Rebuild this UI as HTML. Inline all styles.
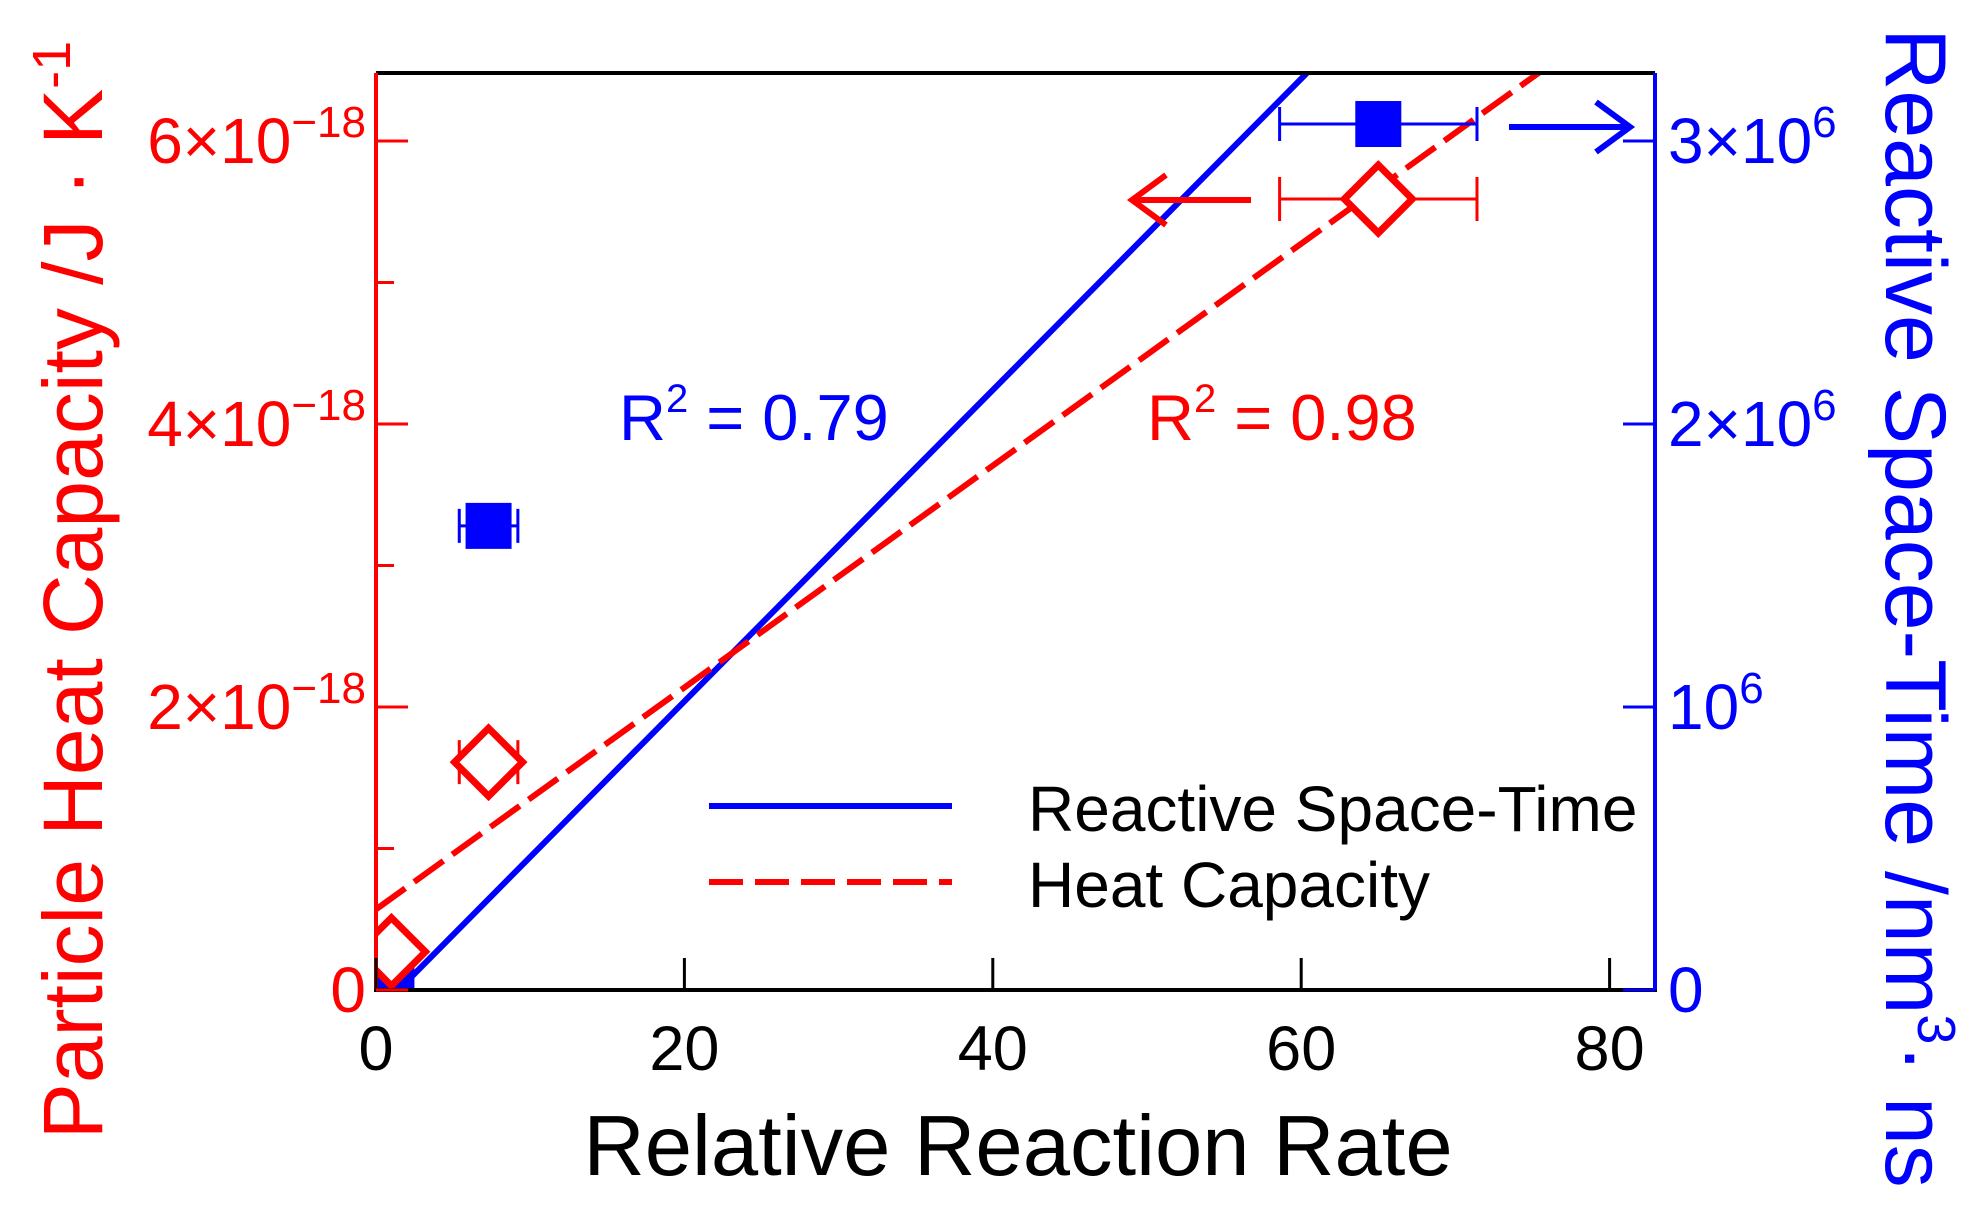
<!DOCTYPE html>
<html><head><meta charset="utf-8">
<style>
html,body{margin:0;padding:0;background:#fff;}
svg{display:block;font-family:"Liberation Sans",Arial,sans-serif;}
</style></head>
<body>
<svg id="chart" width="1975" height="1211" viewBox="0 0 1975 1211" xmlns="http://www.w3.org/2000/svg">
<defs><clipPath id="plotclip"><rect x="376" y="73" width="1279" height="917"/></clipPath></defs>
<g id="marks" clip-path="url(#plotclip)"></g>
<g id="axes"></g>
<g id="labels"></g>
<text x="1018" y="1175" font-family="Liberation Sans, sans-serif" font-size="85" text-anchor="middle" fill="#000">Relative Reaction Rate</text>
<text transform="translate(102,590) rotate(-90)" font-family="Liberation Sans, sans-serif" font-size="84" text-anchor="middle" fill="#ff0000">Particle Heat Capacity /J · K<tspan font-size="54" dy="-32">-1</tspan></text>
<text transform="translate(1886,608) rotate(90)" font-family="Liberation Sans, sans-serif" font-size="86" text-anchor="middle" fill="#0000ff">Reactive Space-Time /nm<tspan font-size="54" dy="-32">3</tspan><tspan dy="32">· ns</tspan></text>
<text x="619" y="440" font-family="Liberation Sans, sans-serif" font-size="65" fill="#0000ff">R<tspan font-size="40" dy="-28">2</tspan><tspan dy="28"> = 0.79</tspan></text>
<text x="1147" y="440" font-family="Liberation Sans, sans-serif" font-size="65" fill="#ff0000">R<tspan font-size="40" dy="-28">2</tspan><tspan dy="28"> = 0.98</tspan></text>
<g stroke="#0000ff" stroke-width="6" fill="none">
  <line x1="1509" y1="127" x2="1630" y2="127"/><path d="M1596,102 L1630,127 L1596,152"/>
</g>
<g stroke="#ff0000" stroke-width="6" fill="none">
  <line x1="1251" y1="200" x2="1132" y2="200"/><path d="M1166,175 L1132,200 L1166,225"/>
</g>
<g>
  <line x1="709" y1="806" x2="952" y2="806" stroke="#0000ff" stroke-width="6"/>
  <line x1="709" y1="882" x2="952" y2="882" stroke="#ff0000" stroke-width="6" stroke-dasharray="34 12"/>
  <text x="1028" y="831" font-family="Liberation Sans, sans-serif" font-size="64" fill="#000">Reactive Space-Time</text>
  <text x="1028" y="907" font-family="Liberation Sans, sans-serif" font-size="64" fill="#000">Heat Capacity</text>
</g>
</svg>
<script>
// ---- data ----
const xTicks = [0, 20, 40, 60, 80];
const leftTicks = [0, 2, 4, 6];           // ×1e-18 J/K
const leftMinor = [1, 3, 5];
const rightTicks = [0, 1, 2, 3];          // ×1e6 nm^3 ns
const rateX = [1.0, 7.3, 65.0];
const rateErr = [0.6, 1.9, 6.4];
const spaceTime = [0.03, 1.64, 3.06];     // ×1e6
const heatCap = [0.27, 1.61, 5.59];       // ×1e-18
const spaceFit = [5.5e-2, -0.08];         // slope, intercept (×1e6)
const heatFit = [0.0784, 0.57];           // slope, intercept (×1e-18)

// ---- scales ----
const X0 = 376, X1 = 1655, Y0 = 990, Y1 = 73;
const xs = v => X0 + v * 15.42;
const yl = v => Y0 - v * 141.5;
const yr = v => Y0 - v * 283;
const NS = "http://www.w3.org/2000/svg";
function mk(parent, tag, attrs) {
  const e = document.createElementNS(NS, tag);
  for (const k in attrs) e.setAttribute(k, attrs[k]);
  parent.appendChild(e);
  return e;
}
const marks = document.getElementById('marks');
const axes = document.getElementById('axes');
const labels = document.getElementById('labels');

let l = mk(marks, 'line', {x1: xs(0), y1: yr(spaceFit[1]), x2: xs(83), y2: yr(spaceFit[0]*83 + spaceFit[1]), stroke: '#0000ff', 'stroke-width': 6});


l = mk(marks, 'line', {x1: xs(0), y1: yl(heatFit[1]), x2: xs(83), y2: yl(heatFit[0]*83 + heatFit[1]), stroke: '#ff0000', 'stroke-width': 6, 'stroke-dasharray': '36 11'});



for (let i = 0; i < rateX.length; i++) {
  const cx = xs(rateX[i]);
  const by = yr(spaceTime[i]);
  const eb = mk(marks, 'path', {d: `M${xs(rateX[i]-rateErr[i])},${by}H${xs(rateX[i]+rateErr[i])}M${xs(rateX[i]-rateErr[i])},${by-17}v34M${xs(rateX[i]+rateErr[i])},${by-17}v34`, stroke: '#0000ff', 'stroke-width': 3, fill: 'none'});
  
  
  const sq = mk(marks, 'rect', {x: cx-23, y: by-23, width: 46, height: 46, fill: '#0000ff'});
  
  
  const ry = yl(heatCap[i]);
  const er = mk(marks, 'path', {d: `M${xs(rateX[i]-rateErr[i])},${ry}H${xs(rateX[i]+rateErr[i])}M${xs(rateX[i]-rateErr[i])},${ry-22}v44M${xs(rateX[i]+rateErr[i])},${ry-22}v44`, stroke: '#ff0000', 'stroke-width': 3, fill: 'none'});
  
  
  const dm = mk(marks, 'polygon', {points: `${cx},${ry-34} ${cx+34},${ry} ${cx},${ry+34} ${cx-34},${ry}`, fill: '#fff', stroke: '#ff0000', 'stroke-width': 7});
  
  
}

let a = mk(axes, 'line', {x1: X0, y1: Y1, x2: X1, y2: Y1, stroke: '#000', 'stroke-width': 4});
 
a = mk(axes, 'line', {x1: X0-2, y1: Y0, x2: X1+2, y2: Y0, stroke: '#000', 'stroke-width': 4});
 
a = mk(axes, 'line', {x1: X0, y1: Y1, x2: X0, y2: Y0, stroke: '#ff0000', 'stroke-width': 4});
 
a = mk(axes, 'line', {x1: X1, y1: Y1, x2: X1, y2: Y0, stroke: '#0000ff', 'stroke-width': 4});
 

xTicks.forEach(v => {
  const t = mk(axes, 'line', {x1: xs(v), y1: Y0, x2: xs(v), y2: Y0-32, stroke: '#000', 'stroke-width': 3});
   
  const tx = mk(labels, 'text', {x: xs(v), y: 1070, 'font-size': 63, 'text-anchor': 'middle', fill: '#000'});
  tx.textContent = v;
   
});
leftTicks.concat(leftMinor).forEach(v => {
  const major = leftTicks.includes(v);
  const t = mk(axes, 'line', {x1: X0, y1: yl(v), x2: X0 + (major ? 32 : 18), y2: yl(v), stroke: '#ff0000', 'stroke-width': 3});
   
});
leftTicks.forEach(v => {
  const tx = mk(labels, 'text', {x: 366, y: yl(v) + 22, 'font-size': 64, 'text-anchor': 'end', fill: '#ff0000'});
  if (v === 0) { tx.textContent = '0'; }
  else {
    tx.appendChild(document.createTextNode(v + '\u00d710'));
    const s = mk(tx, 'tspan', {'font-size': 44, dy: -26}); s.textContent = '\u221218';
  }
   
});
rightTicks.forEach(v => {
  const t = mk(axes, 'line', {x1: X1, y1: yr(v), x2: X1 - 32, y2: yr(v), stroke: '#0000ff', 'stroke-width': 3});
   
  const tx = mk(labels, 'text', {x: 1668, y: yr(v) + 22, 'font-size': 64, 'text-anchor': 'start', fill: '#0000ff'});
  if (v === 0) tx.textContent = '0';
  else {
    tx.appendChild(document.createTextNode(v === 1 ? '10' : v + '\u00d710'));
    const s = mk(tx, 'tspan', {'font-size': 44, dy: -26}); s.textContent = '6';
  }
   
});
</script>
</body></html>
